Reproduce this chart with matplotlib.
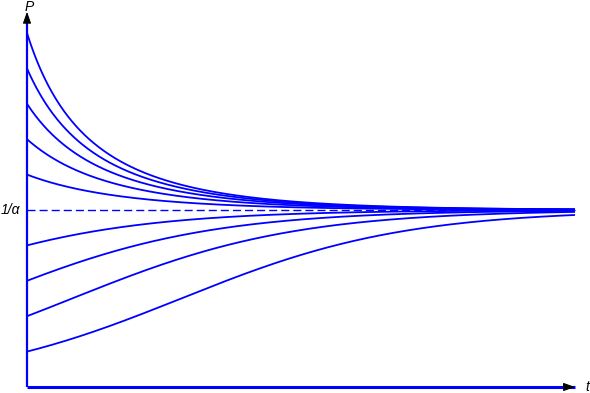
import numpy as np
import matplotlib
matplotlib.use("Agg")
import matplotlib.pyplot as plt

# logistic solutions P(t) with carrying capacity 1/alpha (scaled to 1)
capacity = 1.0
rate = 0.493
t_end = 10.0
start_values = [2.0, 1.8, 1.6, 1.4, 1.2, 0.8, 0.6, 0.4, 0.2]

blue = "#0000ff"

fig = plt.figure(figsize=(5.9, 3.93), dpi=100)
ax = fig.add_axes([0, 0, 1, 1])
ax.set_xlim(-27 / 54.8, 563 / 54.8)
ax.set_ylim(-6 / 177, 387 / 177)
ax.axis("off")

t = np.linspace(0, t_end, 400)
for p0 in start_values:
    p = capacity / (1 + (capacity / p0 - 1) * np.exp(-rate * t))
    ax.plot(t, p, color=blue, lw=1.3, solid_capstyle="butt")

# equilibrium line
ax.plot([0, t_end], [capacity, capacity], color=blue, lw=1.0, dashes=(5.8, 2.9))

# axes with arrows
y_top = 2.12
ax.plot([0, 0], [0, y_top - 0.03], color=blue, lw=1.6, solid_capstyle="butt")
ax.plot([0, t_end], [0, 0], color=blue, lw=2.2, solid_capstyle="butt")
ax.annotate("", xy=(0, y_top), xytext=(0, y_top - 0.05),
            arrowprops=dict(arrowstyle="-|>,head_length=0.7,head_width=0.25",
                            color="black", lw=0.8, shrinkA=0, shrinkB=0))
ax.annotate("", xy=(t_end, 0), xytext=(t_end - 0.1, 0),
            arrowprops=dict(arrowstyle="-|>,head_length=0.7,head_width=0.25",
                            color="black", lw=0.8, shrinkA=0, shrinkB=0))

font = dict(family="Liberation Sans", style="italic", fontsize=10)
ax.text(0.04, 2.148, "P", ha="center", va="center", **font)
ax.text(t_end + 0.22, 0, "t", ha="center", va="center", **font)
ax.text(-0.31, capacity, "1/α", ha="center", va="center", **font)

fig.savefig("out.png", dpi=100)
